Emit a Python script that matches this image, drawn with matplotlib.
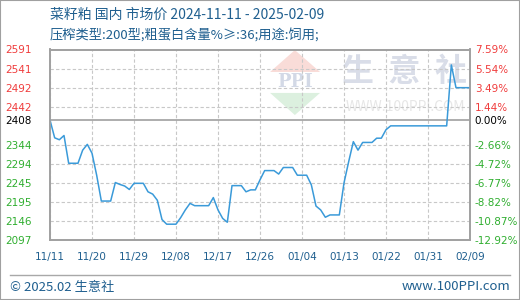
import pandas as pd
import matplotlib
matplotlib.use('Agg')
from matplotlib import pyplot as plt
from matplotlib.patches import Polygon, Rectangle
from matplotlib.lines import Line2D

plt.rcParams['font.family'] = ['Noto Sans CJK SC', 'DejaVu Sans']

# daily price, 2024-11-11 .. 2025-02-09
dates = pd.date_range('2024-11-11', '2025-02-09', freq='D')
prices = [2408, 2362, 2357, 2368, 2296, 2296, 2296, 2330, 2345, 2322,
          2265, 2198, 2198, 2198, 2246, 2241, 2237, 2228, 2244, 2244,
          2244, 2222, 2216, 2200, 2150, 2138, 2138, 2138, 2155, 2175,
          2192, 2186, 2186, 2186, 2186, 2207, 2175, 2153, 2143, 2238,
          2238, 2238, 2222, 2227, 2227, 2253, 2277, 2277, 2277, 2268,
          2285, 2285, 2285, 2265, 2265, 2265, 2240, 2185, 2175, 2156,
          2162, 2162, 2162, 2245, 2300, 2352, 2330, 2350, 2350, 2350,
          2361, 2361, 2383, 2393, 2393, 2393, 2393, 2393, 2393, 2393,
          2393, 2393, 2393, 2393, 2393, 2393, 2551, 2492, 2492, 2492,
          2492]

base = 2408
ytick_vals = [2591, 2541, 2492, 2442, 2408, 2344, 2294, 2245, 2195, 2146, 2097]
pct_labels = ['7.59%', '5.54%', '3.49%', '1.44%', '0.00%', '-2.66%', '-4.72%',
              '-6.77%', '-8.82%', '-10.87%', '-12.92%']
xtick_labels = ['11/11', '11/20', '11/29', '12/08', '12/17', '12/26',
                '01/04', '01/13', '01/22', '01/31', '02/09']
xtick_dates = pd.date_range('2024-11-11', periods=11, freq='9D')

title = '菜籽粕 国内 市场价 2024-11-11 - 2025-02-09'
subtitle = '压榨类型:200型;粗蛋白含量%≥:36;用途:饲用;'

RED = '#f03c3c'
GREEN = '#2fae2f'
BLUE = '#1f5f8f'

fig = plt.figure(figsize=(5.2, 3.0), dpi=100)
W, H = 520, 300
ax = fig.add_axes([50 / W, 60 / H, 420 / W, 190.5 / H])

# watermark
ax.text(0.845, 0.88, '生  意  社', transform=ax.transAxes, ha='center', va='center',
        fontsize=23, color='#d9dde8', fontweight='bold', zorder=0)
ax.text(0.845, 0.70, 'WWW.100PPI.COM', transform=ax.transAxes, ha='center', va='center',
        fontsize=10, color='#e6e6e6', zorder=0)
ax.add_patch(Polygon([[0.524, 0.882], [0.643, 0.882], [0.583, 0.997]], closed=True,
                     transform=ax.transAxes, color='#f9dcd8', zorder=0, lw=0))
ax.add_patch(Polygon([[0.524, 0.772], [0.643, 0.772], [0.583, 0.656]], closed=True,
                     transform=ax.transAxes, color='#dcf0df', zorder=0, lw=0))
ax.text(0.583, 0.83, 'PPI', transform=ax.transAxes, ha='center', va='center',
        fontsize=13, color='#d3d9e6', fontweight='bold', family='DejaVu Serif', zorder=0)

ax.plot(dates, prices, color='#3a9ad9', lw=1.1, zorder=3)
ax.axhline(base, color='#a0a0a0', lw=1.2, zorder=2)

ax.set_xlim(dates[0], dates[-1])
ax.set_ylim(2097, 2591)

ax.set_xticks(xtick_dates, xtick_labels)
ax.set_yticks(ytick_vals, [str(v) for v in ytick_vals])
ax.grid(True, color='#c8c8c8', linestyle=(0, (3, 2)), lw=0.8)
ax.yaxis.get_gridlines()[ytick_vals.index(base)].set_visible(False)

ax.tick_params(axis='x', length=0, pad=8.5, labelsize=7.5, labelcolor=BLUE)
ax.tick_params(axis='y', length=0, pad=32.5, labelsize=7.5)
for t, v in zip(ax.get_yticklabels(), ytick_vals):
    t.set_ha('left')
    t.set_color(RED if v > base else ('black' if v == base else GREEN))
    t.set_family('DejaVu Sans')
for t in ax.get_xticklabels():
    t.set_family('DejaVu Sans')

ax2 = ax.twinx()
ax2.set_ylim(ax.get_ylim())
ax2.set_yticks(ytick_vals, pct_labels)
ax2.tick_params(axis='y', length=0, pad=3.5, labelsize=7.5)
for t, v in zip(ax2.get_yticklabels(), ytick_vals):
    t.set_color(RED if v > base else ('black' if v == base else GREEN))
    t.set_family('DejaVu Sans')

for a in (ax, ax2):
    for s in a.spines.values():
        s.set_color('#a0a0a0')
        s.set_linewidth(1.2)

fig.text(50 / W, 1 - 15 / H, title, fontsize=10, color=BLUE, va='center', ha='left')
fig.text(50 / W, 1 - 35 / H, subtitle, fontsize=9.5, color=BLUE, va='center', ha='left')

fig.add_artist(Line2D([10 / W, 510 / W], [1 - 275 / H, 1 - 275 / H], color='#a8a8a8', lw=1))
fig.text(10 / W, 1 - 287 / H, '© 2025.02 生意社', fontsize=9.5, color=BLUE, va='center', ha='left')
fig.text(510 / W, 1 - 287 / H, 'www.100PPI.com', fontsize=9.5, color=BLUE, va='center', ha='right')
fig.add_artist(Rectangle((0, 0), 1, 1, transform=fig.transFigure, fill=False,
                         edgecolor='#a0a0a0', lw=1.5))

fig.savefig('out.png', dpi=100)
